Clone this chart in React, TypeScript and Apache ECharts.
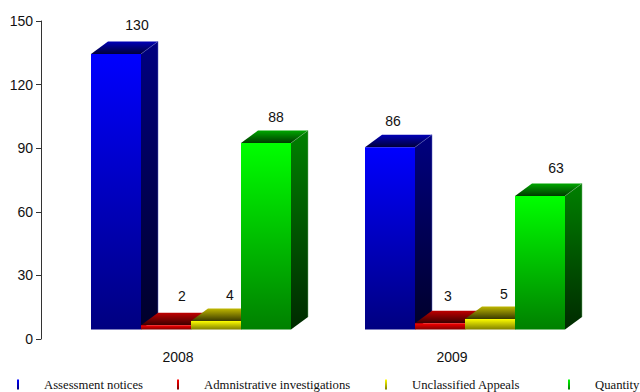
import React, { useEffect, useRef } from "react";
import * as echarts from "echarts";

const years = ["2008", "2009"];
const seriesNames = [
  "Assessment notices",
  "Admnistrative investigations",
  "Unclassified Appeals",
  "Quantity",
];
const assessmentNotices = [130, 86];
const administrativeInvestigations = [2, 3];
const unclassifiedAppeals = [4, 5];
const quantity = [88, 63];
const seriesValues = [
  assessmentNotices,
  administrativeInvestigations,
  unclassifiedAppeals,
  quantity,
];
const yTicks = { min: 0, max: 150, interval: 30 };

// Bright, mid and dark shades for each series' block.
const palette = [
  { bright: "#0000ff", mid: "#000080", deep: "#00002a", topBack: "#0000b8", topFront: "#00003a", edge: "#5a60c0" },
  { bright: "#ff0000", mid: "#800000", deep: "#2a0000", topBack: "#c00000", topFront: "#3a0000", edge: "#d08080" },
  { bright: "#ffff00", mid: "#808000", deep: "#2a2a00", topBack: "#c0b800", topFront: "#3a3a00", edge: "#d0d080" },
  { bright: "#00ff00", mid: "#008000", deep: "#002a00", topBack: "#00a800", topFront: "#003a00", edge: "#70b070" },
];

// Value label shifts relative to each block's front-top centre, per series then per year.
const labelShift = [
  [[21, -29], [3, -26]],
  [[16, -29], [8, -27]],
  [[14, -26], [14, -25]],
  [[10, -26], [16, -28]],
];

const BLOCK_WIDTH = 50;
const DEPTH_X = 17;
const DEPTH_Y = 12.5;
const FLOOR_LIFT = 9.5;
const GROUP_SHIFT = 13;

const vertical = (a: string, b: string) =>
  new echarts.graphic.LinearGradient(0, 0, 0, 1, [
    { offset: 0, color: a },
    { offset: 1, color: b },
  ]);

const blockRenderer = (seriesIndex: number) => (params: any, api: any) => {
  const cat = api.value(0);
  const val = api.value(1);
  const colors = palette[seriesIndex];
  const center = api.coord([cat, 0])[0];
  const floor = api.coord([cat, 0])[1] - FLOOR_LIFT;
  const topY = api.coord([cat, val])[1] - FLOOR_LIFT;
  const x0 = center + GROUP_SHIFT + (seriesIndex - 2) * BLOCK_WIDTH;
  const x1 = x0 + BLOCK_WIDTH;
  const [sx, sy] = labelShift[seriesIndex][cat];
  return {
    type: "group",
    children: [
      {
        type: "polygon",
        shape: { points: [[x1, topY], [x1 + DEPTH_X, topY - DEPTH_Y], [x1 + DEPTH_X, floor - DEPTH_Y], [x1, floor]] },
        style: { fill: vertical(colors.mid, colors.deep) },
      },
      {
        type: "polygon",
        shape: { points: [[x0, topY], [x0 + DEPTH_X, topY - DEPTH_Y], [x1 + DEPTH_X, topY - DEPTH_Y], [x1, topY]] },
        style: { fill: vertical(colors.topBack, colors.topFront) },
      },
      {
        type: "polyline",
        shape: { points: [[x1, topY], [x1 + DEPTH_X, topY - DEPTH_Y], [x1 + DEPTH_X, floor - DEPTH_Y]] },
        style: { stroke: colors.edge, lineWidth: 1, fill: "none", opacity: 0.5 },
      },
      {
        type: "rect",
        shape: { x: x0, y: topY, width: BLOCK_WIDTH, height: floor - topY },
        style: { fill: vertical(colors.bright, colors.mid) },
      },
      {
        type: "text",
        z2: 10,
        style: {
          x: x0 + BLOCK_WIDTH / 2 + sx,
          y: topY + sy,
          text: String(val),
          fill: "#111",
          font: '14px "Liberation Sans", Arial, sans-serif',
          align: "center",
          verticalAlign: "middle",
        },
      },
    ],
  };
};

const legendMarkerX = [17, 177, 385, 568];

export default function App() {
  const ref = useRef<HTMLDivElement>(null);

  useEffect(() => {
    const chart = echarts.init(ref.current!, undefined, { renderer: "svg" });
    chart.setOption({
      animation: false,
      backgroundColor: "#fff",
      grid: { left: 41, right: 51, top: 21, bottom: 53, containLabel: false },
      xAxis: {
        type: "category",
        data: years,
        axisLine: { show: false },
        axisTick: { show: false },
        axisLabel: {
          color: "#111",
          margin: 11,
          fontSize: 14,
          fontFamily: '"Liberation Sans", Arial, sans-serif',
        },
      },
      yAxis: {
        type: "value",
        min: yTicks.min,
        max: yTicks.max,
        interval: yTicks.interval,
        axisLine: { show: true, lineStyle: { color: "#333", width: 1 } },
        axisTick: { show: true, length: 5, lineStyle: { color: "#333" } },
        axisLabel: {
          color: "#111",
          margin: 8,
          fontSize: 14,
          fontFamily: '"Liberation Sans", Arial, sans-serif',
        },
        splitLine: { show: false },
      },
      legend: seriesNames.map((name, i) => ({
        data: [name],
        left: legendMarkerX[i],
        top: 378,
        padding: 0,
        icon: "rect",
        itemWidth: 2,
        itemHeight: 10,
        selectedMode: false,
        itemStyle: { color: vertical(palette[i].bright, palette[i].mid) },
        textStyle: {
          color: "#111",
          fontSize: 12.7,
          fontFamily: '"Liberation Serif", "Times New Roman", serif',
          padding: [0, 0, 0, 20],
        },
      })),
      series: seriesNames.map((name, i) => ({
        type: "custom",
        name,
        coordinateSystem: "cartesian2d",
        clip: false,
        itemStyle: { color: palette[i].bright },
        data: seriesValues[i].map((v, c) => [c, v]),
        renderItem: blockRenderer(i),
      })),
    });
    return () => chart.dispose();
  }, []);

  return (
    <div
      ref={ref}
      style={{ position: "fixed", left: 0, top: 0, width: 640, height: 392, background: "#fff" }}
    />
  );
}
